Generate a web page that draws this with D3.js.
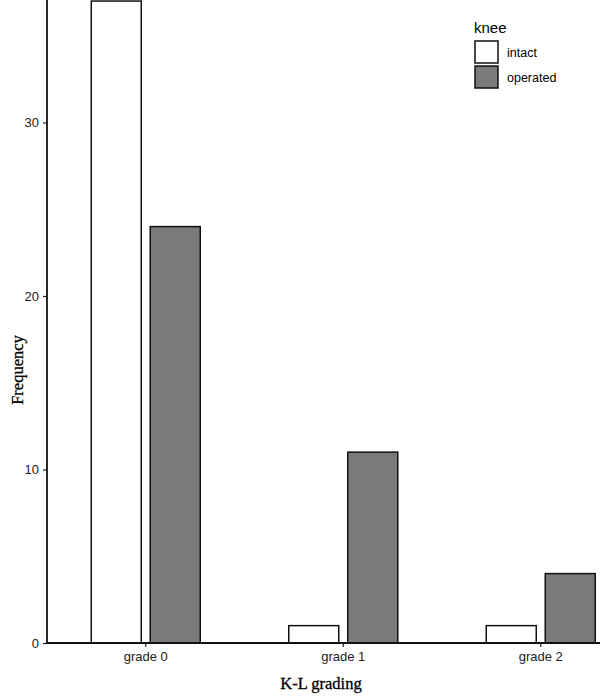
<!DOCTYPE html>
<html>
<head>
<meta charset="utf-8">
<script src="https://cdn.jsdelivr.net/npm/d3@7"></script>
<style>
  html, body { margin: 0; padding: 0; background: #fff; }
  svg { display: block; }
</style>
</head>
<body>
<svg id="chart" width="600" height="696"></svg>
<script>
const categories = ["grade 0", "grade 1", "grade 2"];
const knees = ["intact", "operated"];
const intact = [37, 1, 1];
const operated = [24, 11, 4];
const yTicks = [0, 10, 20, 30];
const colors = { intact: "#ffffff", operated: "#7a7a7a" };

const data = [];
categories.forEach((c, i) => {
  data.push({ cat: c, knee: "intact", value: intact[i] });
  data.push({ cat: c, knee: "operated", value: operated[i] });
});

const svg = d3.select("#chart");
const left = 47, bottom = 643;

const x = d3.scaleBand().domain(categories).range([left, left + 3 * 197.5]).paddingInner(0).paddingOuter(0);
const xInner = d3.scaleBand().domain(knees).range([44.25, 153.25]).paddingInner(0.1525).paddingOuter(0);
const y = d3.scaleLinear().domain([0, 10]).range([bottom, bottom - 173.5]);

// bars
svg.append("g").selectAll("rect").data(data).join("rect")
  .attr("x", d => x(d.cat) + xInner(d.knee))
  .attr("y", d => y(d.value))
  .attr("width", xInner.bandwidth())
  .attr("height", d => y(0) - y(d.value))
  .attr("fill", d => colors[d.knee])
  .attr("stroke", "#111")
  .attr("stroke-width", 1.5);

// y axis
const yAxis = svg.append("g").attr("transform", `translate(${left},0)`)
  .call(d3.axisLeft(y).tickValues(yTicks).tickSize(4).tickPadding(4).tickFormat(d3.format("d")));
yAxis.select(".domain").remove();
yAxis.selectAll(".tick line").attr("stroke", "#222").attr("stroke-width", 1.2);
yAxis.selectAll(".tick text").attr("fill", "#222").style("font-family", "'Liberation Sans', Arial, sans-serif").style("font-size", "13px");
svg.append("line").attr("x1", left).attr("x2", left).attr("y1", 0).attr("y2", bottom + 0.75)
  .attr("stroke", "#111").attr("stroke-width", 1.8);

// x axis
const xAxis = svg.append("g").attr("transform", `translate(0,${bottom})`)
  .call(d3.axisBottom(x).tickSize(4).tickPadding(5));
xAxis.select(".domain").remove();
xAxis.selectAll(".tick line").attr("stroke", "#222").attr("stroke-width", 1.2);
xAxis.selectAll(".tick text").attr("fill", "#222").style("font-family", "'Liberation Sans', Arial, sans-serif").style("font-size", "13px");
svg.append("line").attr("x1", left).attr("x2", 600).attr("y1", bottom).attr("y2", bottom)
  .attr("stroke", "#111").attr("stroke-width", 1.8);

// axis titles
svg.append("text").attr("x", 321).attr("y", 689).attr("text-anchor", "middle")
  .style("font-family", "'Liberation Serif', 'Times New Roman', serif").style("font-size", "16.5px").attr("fill", "#000")
  .attr("stroke", "#000").attr("stroke-width", 0.3)
  .text("K-L grading");
svg.append("text").attr("transform", "translate(23,370) rotate(-90)").attr("text-anchor", "middle")
  .style("font-family", "'Liberation Serif', 'Times New Roman', serif").style("font-size", "16.5px").attr("fill", "#000")
  .attr("stroke", "#000").attr("stroke-width", 0.3)
  .text("Frequency");

// legend
const lg = svg.append("g");
lg.append("text").attr("x", 474).attr("y", 33)
  .style("font-family", "'Liberation Sans', Arial, sans-serif").style("font-size", "15px").attr("fill", "#000")
  .text("knee");
knees.forEach((k, i) => {
  lg.append("rect").attr("x", 475).attr("y", 41 + i * 25).attr("width", 23).attr("height", 22)
    .attr("fill", colors[k]).attr("stroke", "#111").attr("stroke-width", 1.5);
  lg.append("text").attr("x", 507).attr("y", 57 + i * 25)
    .style("font-family", "'Liberation Sans', Arial, sans-serif").style("font-size", "12.5px").attr("fill", "#000")
    .text(k);
});
</script>
</body>
</html>
